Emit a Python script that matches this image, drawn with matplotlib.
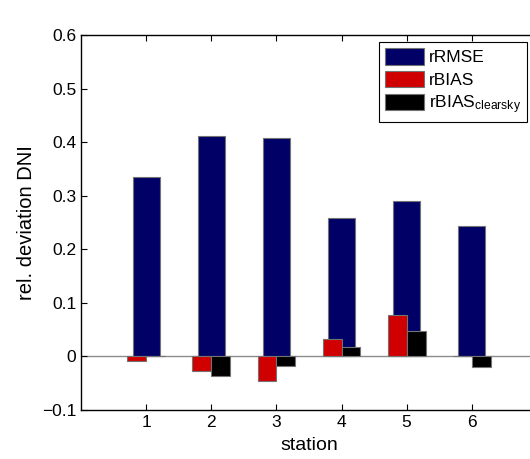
import numpy as np
import matplotlib
matplotlib.use("Agg")
import matplotlib.pyplot as plt

plt.rcParams['font.family'] = ['Liberation Sans', 'DejaVu Sans']
plt.rcParams['mathtext.fontset'] = 'custom'
plt.rcParams['mathtext.rm'] = 'Liberation Sans'
plt.rcParams['mathtext.it'] = 'Liberation Sans'

# datos
stations = [1, 2, 3, 4, 5, 6]
rrmse = [0.334, 0.412, 0.407, 0.259, 0.291, 0.243]
rbias = [-0.009, -0.028, -0.045, 0.032, 0.078, 0.0]
rbias_clear = [0.0, -0.037, -0.017, 0.017, 0.047, -0.019]

x = np.array(stations)

fig = plt.figure(figsize=(5.30, 4.59), dpi=100)
ax = fig.add_axes([0.153, 0.1068, 0.860, 0.817])

edge = '0.45'
ax.bar(x, rrmse, width=0.41, color='#000066', edgecolor=edge, linewidth=0.8,
       label='rRMSE', zorder=2)
ax.bar(x - 0.145, rbias, width=0.29, color='#d00000', edgecolor=edge,
       linewidth=0.8, label='rBIAS', zorder=3)
ax.bar(x + 0.145, rbias_clear, width=0.29, color='black', edgecolor=edge,
       linewidth=0.8, label=r'rBIAS$_{\mathrm{clearsky}}$', zorder=3)
ax.axhline(0, color='0.55', linewidth=1.0, zorder=1)

ax.set_xlim(0, 7)
ax.set_ylim(-0.1, 0.6)
ax.set_xticks(stations)
ax.set_yticks(np.arange(-0.1, 0.61, 0.1))
ax.set_yticklabels(['\u22120.1', '0', '0.1', '0.2', '0.3', '0.4', '0.5', '0.6'])
ax.tick_params(direction='in', top=True, right=True, length=4, labelsize=12.5,
               width=0.8)
for s in ax.spines.values():
    s.set_linewidth(1.0)

ax.set_xlabel('station', fontsize=14, labelpad=5)
ax.set_ylabel('rel. deviation DNI', fontsize=14.5, labelpad=4)

leg = ax.legend(loc='upper right', bbox_to_anchor=(0.9943, 0.9085),
                bbox_transform=fig.transFigure, fontsize=12.5, fancybox=False,
                edgecolor='black', framealpha=1, handlelength=2.2,
                handleheight=1.1, labelspacing=0.3, borderpad=0.35,
                handletextpad=0.3, borderaxespad=0)
leg.get_frame().set_linewidth(0.8)

fig.savefig('out.png', dpi=100)
